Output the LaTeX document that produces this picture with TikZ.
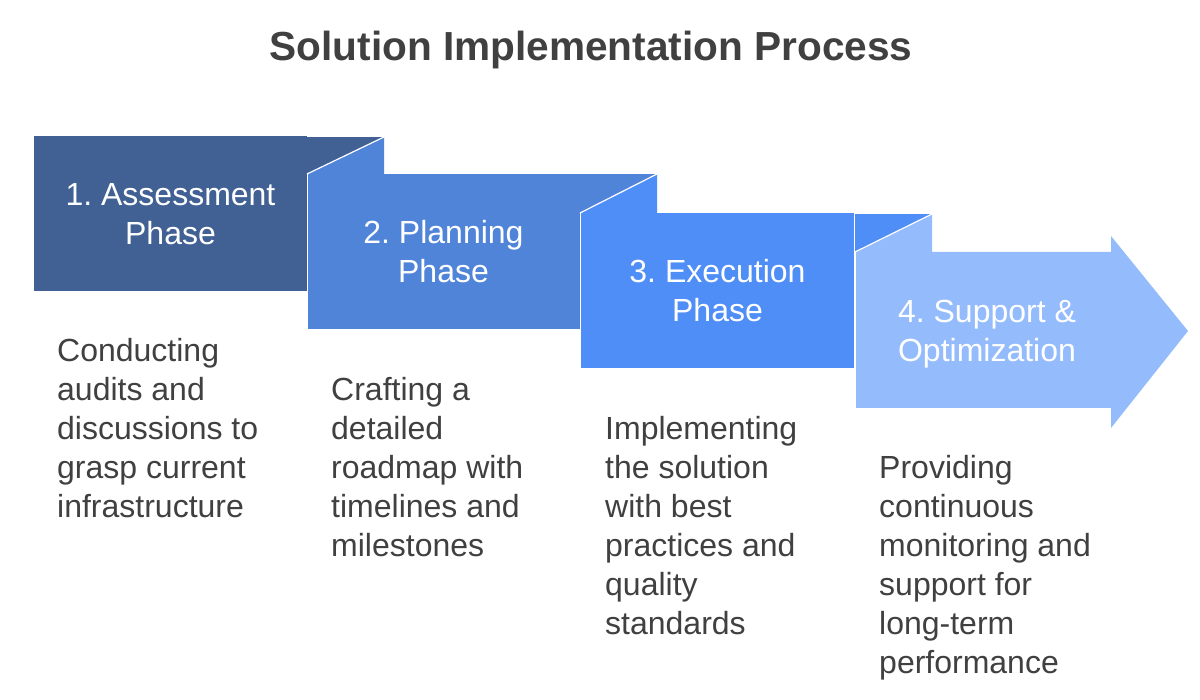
\documentclass[tikz,border=0pt]{standalone}
\usepackage{fontspec}
\setmainfont{Liberation Sans}
\frenchspacing
\definecolor{cA}{HTML}{416194}
\definecolor{cB}{HTML}{4F84D9}
\definecolor{cC}{HTML}{4F8EF6}
\definecolor{cD}{HTML}{94BCFC}
\definecolor{txt}{HTML}{404040}
\tikzset{
  phasebox/.style={rectangle, minimum width=273pt, minimum height=155pt, inner sep=0pt, text=white, align=center, font=\fontsize{32}{39}\selectfont},
  desc/.style={anchor=north west, inner sep=0pt, align=left, text=txt, font=\fontsize{32}{39}\selectfont},
  foldline/.style={draw=white, line width=1.2pt},
}
\begin{document}
\begin{tikzpicture}[x=1pt,y=-1pt]
\useasboundingbox (0,0) rectangle (1200,700);
\fill[white] (0,0) rectangle (1200,700);
\node[anchor=base, text=txt, font=\fontsize{40.6}{48}\selectfont\bfseries] (title) at (591,61) {Solution Implementation Process};
% phase 1
\fill[cA] (307,137) rectangle (384,174);
\node[phasebox, fill=cA] (p1) at (170.5,214) {1. Assessment\\Phase};
% phase 2
\fill[cB] (580,174) rectangle (657,213);
\node[phasebox, fill=cB] (p2) at (443.5,252) {2. Planning\\Phase};
\fill[cB] (307,174) -- (384,137) -- (384,174) -- cycle;
\draw[foldline] (307,174) -- (384,137);
% phase 3
\fill[cC] (855,214) rectangle (932,252);
\node[phasebox, fill=cC] (p3) at (717.5,291) {3. Execution\\Phase};
\fill[cC] (580,213) -- (657,174) -- (657,213) -- cycle;
\draw[foldline] (580,213) -- (657,174);
% phase 4 arrow
\fill[cD] (855,252) -- (1111,252) -- (1111,236) -- (1188,331) -- (1111,428) -- (1111,408) -- (855,408) -- cycle;
\fill[cD] (855,252) -- (932,214) -- (932,252) -- cycle;
\draw[foldline] (855,252) -- (932,214);
\draw[white, line width=0.8pt] (307,174) -- (307,330) (580,213) -- (580,369) (855,252) -- (855,408);
\node[phasebox] (p4) at (987,334) {4. Support \&\\Optimization};
% descriptions
\node[desc] (d1) at (57,338) {Conducting\\audits and\\discussions to\\grasp current\\infrastructure};
\node[desc] (d2) at (331,377) {Crafting a\\detailed\\roadmap with\\timelines and\\milestones};
\node[desc] (d3) at (605,416) {Implementing\\the solution\\with best\\practices and\\quality\\standards};
\node[desc] (d4) at (879,455) {Providing\\continuous\\monitoring and\\support for\\long-term\\performance};
\end{tikzpicture}
\end{document}
